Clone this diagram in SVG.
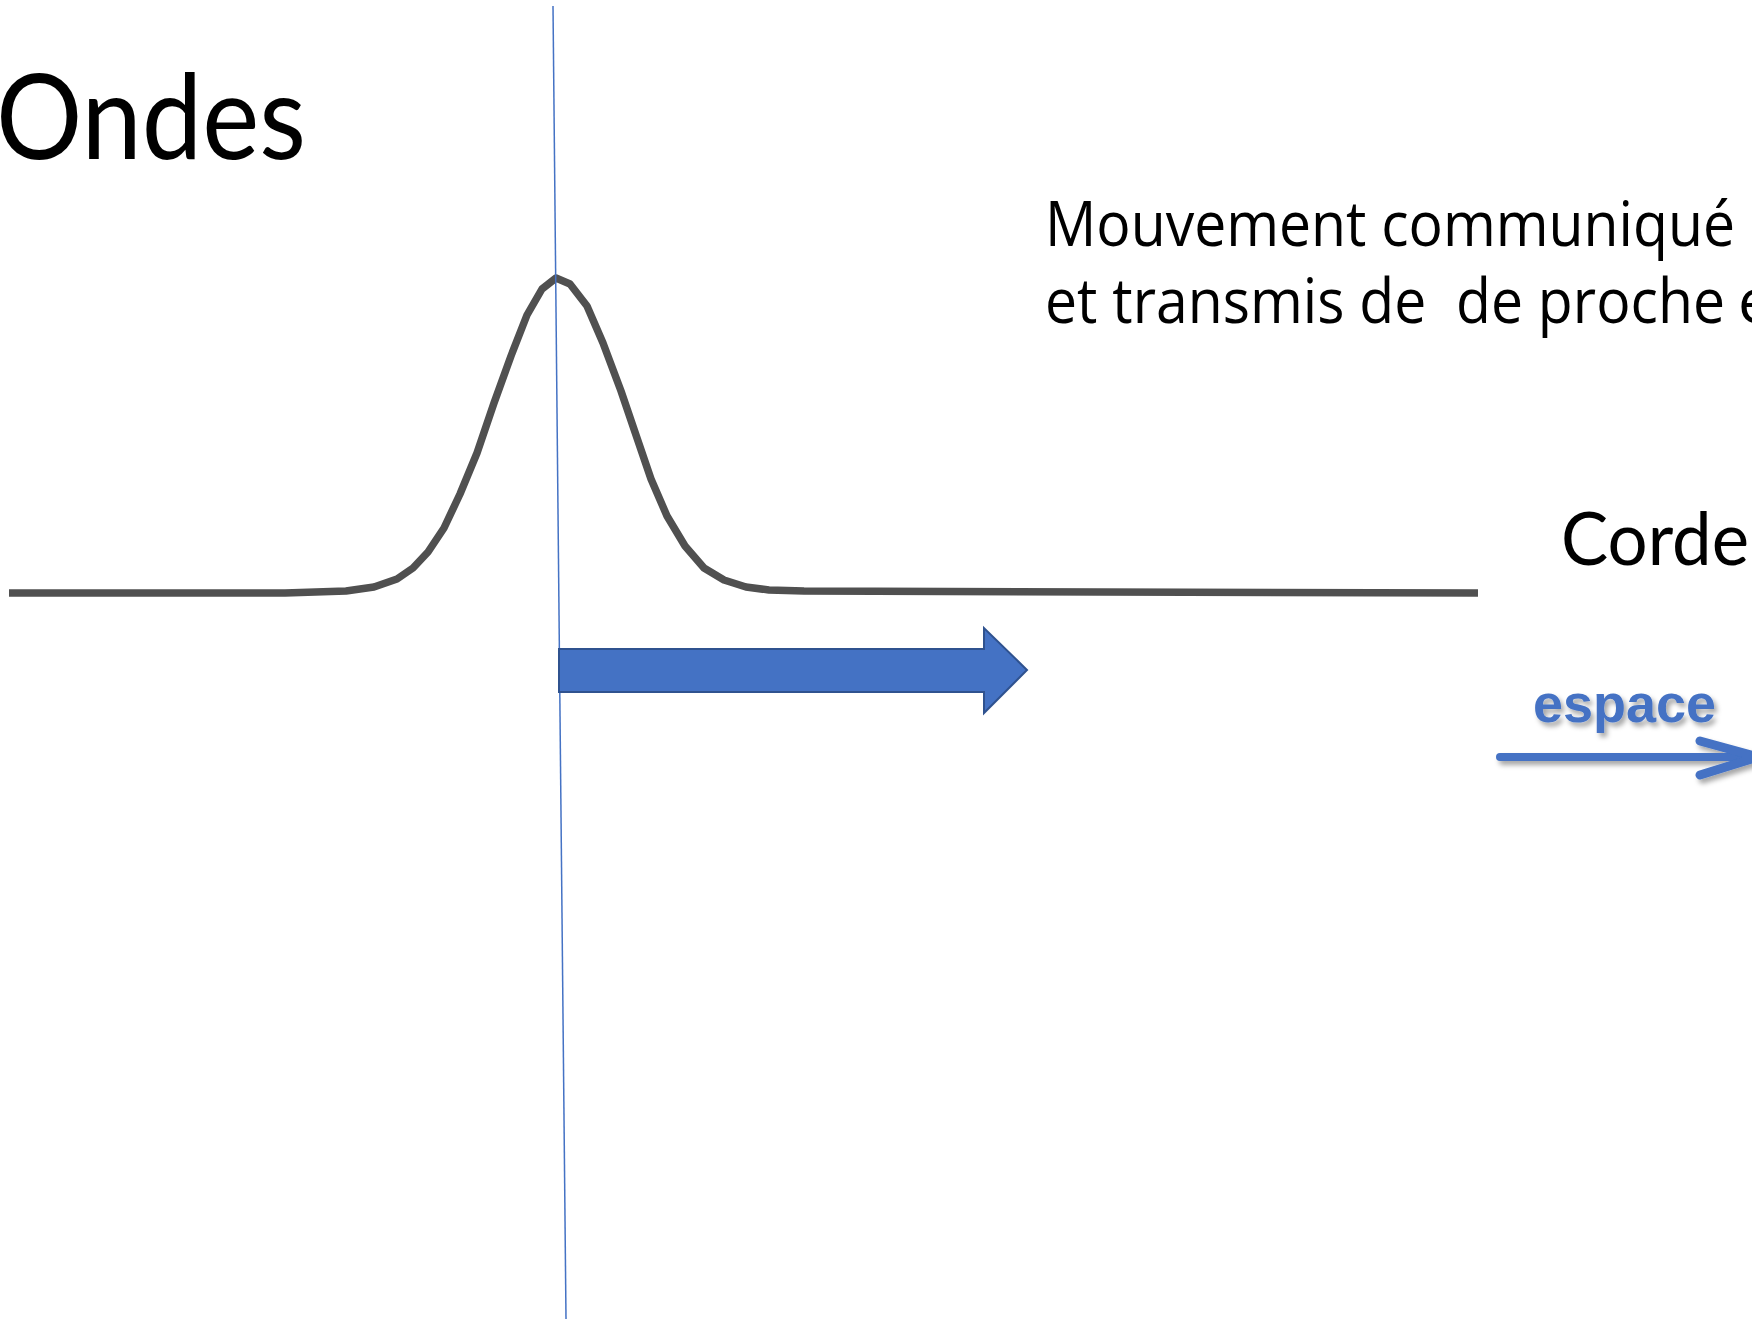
<svg xmlns="http://www.w3.org/2000/svg" width="1752" height="1319" viewBox="0 0 1752 1319">
<defs>
<style>
.title{font-family:Lato,"Open Sans",sans-serif;fill:#000}
.desc{font-family:"Open Sans","Noto Sans",sans-serif;font-size:62px;fill:#000;white-space:pre}
.esp{font-family:"Liberation Sans",Arial,sans-serif;font-weight:bold;font-size:54px;fill:#4472C4}
</style>
<filter id="sh" x="-10%" y="-30%" width="130%" height="180%">
<feGaussianBlur in="SourceAlpha" stdDeviation="2.5"/>
<feOffset dx="3" dy="4" result="b"/>
<feFlood flood-color="#000" flood-opacity="0.35"/>
<feComposite in2="b" operator="in" result="s"/>
<feMerge><feMergeNode in="s"/><feMergeNode in="SourceGraphic"/></feMerge>
</filter>
</defs>
<rect width="1752" height="1319" fill="#fff"/>
<g id="title"><text class="title" x="-4" y="159" font-size="118" textLength="310" lengthAdjust="spacingAndGlyphs">Ondes</text></g>
<g id="description">
<text class="desc" x="1045" y="246" textLength="690" lengthAdjust="spacingAndGlyphs">Mouvement communiqué</text>
<text class="desc" x="1045" y="323" textLength="680" lengthAdjust="spacingAndGlyphs">et transmis de  de proche</text>
<text class="desc" x="1738" y="323">e</text>
</g>
<g id="corde-label"><text class="title" x="1561" y="565" font-size="74" textLength="188" lengthAdjust="spacingAndGlyphs">Corde</text></g>
<g id="string">
<polyline fill="none" stroke="#505050" stroke-width="7.5" stroke-linejoin="round" points="9,593 285,593 346,591 374,587 397,579 413,568 428,552 444,528 460,494 477,453 494,403 511,356 527,315 542,289 556,278 570,284 587,306 603,343 621,391 637,438 651,479 667,516 685,546 704,568 724,580 746,587 769,590 804,591 1478,593"/>
</g>
<g id="connectors">
<line x1="553" y1="6" x2="566" y2="1319" stroke="#4472C4" stroke-width="1.5"/>
<polygon points="559,649 984,649 984,628 1027,670 984,713 984,692 559,692" fill="#4472C4" stroke="#2F528F" stroke-width="2"/>
<g id="espace-arrow" filter="url(#sh)">
<path d="M1500,757 L1752,757" stroke="#4472C4" stroke-width="8" stroke-linecap="round"/>
<path d="M1700,741 L1758,757 L1700,775" fill="none" stroke="#4472C4" stroke-width="9" stroke-linecap="round" stroke-linejoin="round"/>
</g>
</g>
<g id="espace-label"><text class="esp" x="1533" y="722" filter="url(#sh)">espace</text></g>
</svg>
